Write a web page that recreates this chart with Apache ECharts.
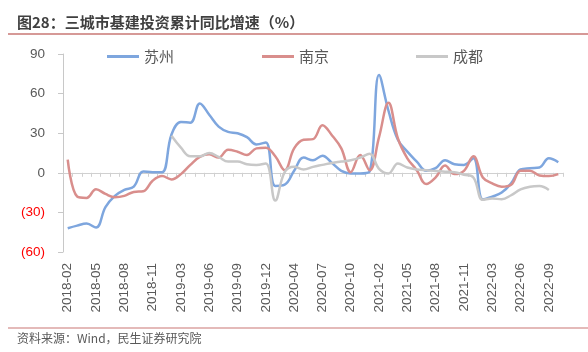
<!DOCTYPE html>
<html>
<head>
<meta charset="utf-8">
<script src="https://cdn.jsdelivr.net/npm/echarts@6/dist/echarts.min.js"></script>
<style>
  html, body { margin: 0; padding: 0; background: #fff; }
  #chart { width: 588px; height: 352px; }
</style>
</head>
<body>
<div id="chart"></div>
<script>
const months = [
  '2018-02', '2018-03', '2018-04', '2018-05', '2018-06', '2018-07', '2018-08', '2018-09', '2018-10', '2018-11', '2018-12',
  '2019-02', '2019-03', '2019-04', '2019-05', '2019-06', '2019-07', '2019-08', '2019-09', '2019-10', '2019-11', '2019-12',
  '2020-02', '2020-03', '2020-04', '2020-05', '2020-06', '2020-07', '2020-08', '2020-09', '2020-10', '2020-11', '2020-12',
  '2021-02', '2021-03', '2021-04', '2021-05', '2021-06', '2021-07', '2021-08', '2021-09', '2021-10', '2021-11', '2021-12',
  '2022-02', '2022-03', '2022-04', '2022-05', '2022-06', '2022-07', '2022-08', '2022-09', '2022-10'
]

// 苏州
const suzhou = [
  -42, -40, -38.5, -41.5, -26, -17.5, -13, -10.5, 1, 0.5, 0.5,
  29, 38.5, 38, 52.5, 44, 35, 31, 30, 27, 21.5, 23,
  -10, -9, 1.5, 11.5, 9.5, 13, 7.5, 1.5, -0.5, -0.5, 1,
  74, 47, 25, 16, 8.5, 1.5, 3.5, 9.5, 6.5, 6, 11,
  -20, -18, -15, -8, 2.5, 3.5, 4, 11, 8
]

// 南京
const nanjing = [
  10, -18, -19, -12.5, -16, -18.5, -17.5, -14.5, -14, -6, -2.5,
  -5, -1, 6, 12, 14, 11.5, 17.5, 16, 13.5, 18.5, 19,
  12.5, 2, 18.5, 25, 25.5, 36, 28.5, 18.5, 0.5, 13.5, 2,
  27, 53, 26, 11, 2, -8.5, -3.5, 5.5, -1, 1.5, 12.5,
  -3.5, -8, -10.5, -9, 1.5, 1.5, -2, -2.5, -1
]

// 成都
const chengdu = [
  null, null, null, null, null, null, null, null, null, null, null,
  28, 19, 12.5, 12.5, 15, 12, 8.5, 8.5, 6.5, 6, 7,
  -21, 0.5, 4.5, 2.5, 4.5, 6, 7.5, 8.5, 9.5, 11.5, 14.5,
  3, -0.5, 7, 4, 2.5, 2, 1.3, 0.8, 0.5, -1.5, -3.5,
  -20.5, -19.5, -20, -17, -12.5, -10.5, -10, -13, null
]

const yTicks = [-60, -30, 0, 30, 60, 90]

const chart = echarts.init(document.getElementById('chart'))

const legendItem = (name, left) => ({
  data: [name],
  left: left,
  top: 49,
  padding: 0,
  icon: 'rect',
  itemWidth: 32,
  itemHeight: 3,
  itemGap: 5,
  textStyle: { fontSize: 15, color: '#595959', fontFamily: 'Noto Sans CJK SC' }
})

const lineSeries = (name, data, color) => ({
  name: name,
  type: 'line',
  data: data,
  smooth: 0.4,
  symbol: 'none',
  connectNulls: false,
  lineStyle: { width: 2.5, color: color },
  itemStyle: { color: color }
})

const option = {
  animation: false,
  textStyle: { fontFamily: 'Liberation Sans, Noto Sans CJK SC' },
  grid: { left: 63, right: 25, top: 54, bottom: 100, containLabel: false },
  legend: [
    legendItem('苏州', 107),
    legendItem('南京', 262),
    legendItem('成都', 416)
  ],
  xAxis: [
    {
      type: 'category',
      data: months,
      boundaryGap: true,
      position: 'bottom',
      axisLine: { show: false, onZero: false },
      axisTick: { show: false },
      axisLabel: {
        rotate: 90,
        interval: 2,
        margin: 11,
        fontSize: 13.5,
        color: '#595959'
      }
    },
    {
      type: 'category',
      data: months,
      boundaryGap: true,
      position: 'bottom',
      axisLine: { show: true, onZero: true, lineStyle: { color: '#d0d0d0', width: 1 } },
      axisTick: { show: true, interval: 0, length: 4, lineStyle: { color: '#d0d0d0' } },
      axisLabel: { show: false }
    }
  ],
  yAxis: {
    type: 'value',
    min: yTicks[0],
    max: yTicks[yTicks.length - 1],
    interval: 30,
    splitLine: { show: false },
    axisLine: { show: true, lineStyle: { color: '#c8c8c8' } },
    axisTick: { show: true, length: 5, lineStyle: { color: '#c8c8c8' } },
    axisLabel: {
      margin: 18,
      fontSize: 13.5,
      formatter: v => (v < 0 ? '(' + (-v) + ')' : String(v)),
      color: v => (Number(v) < 0 ? '#ff0000' : '#595959')
    }
  },
  series: [
    lineSeries('苏州', suzhou, '#7ea6de'),
    lineSeries('南京', nanjing, '#d98e8c'),
    lineSeries('成都', chengdu, '#c8c8c8')
  ],
  graphic: [
    {
      type: 'text',
      left: 17,
      top: 15,
      style: {
        text: '图28：三城市基建投资累计同比增速（%）',
        fontSize: 15,
        fontWeight: 'bold',
        fill: '#404040',
        fontFamily: 'Noto Sans CJK SC'
      }
    },
    {
      type: 'line',
      shape: { x1: 8, y1: 34, x2: 588, y2: 34 },
      style: { stroke: '#c97775', lineWidth: 1.5 }
    },
    {
      type: 'line',
      shape: { x1: 8, y1: 328, x2: 588, y2: 328 },
      style: { stroke: '#c97775', lineWidth: 1.2 }
    },
    {
      type: 'text',
      left: 17,
      top: 332,
      style: {
        text: '资料来源：Wind，民生证券研究院',
        fontSize: 12,
        fill: '#595959',
        fontFamily: 'Noto Sans CJK SC'
      }
    }
  ]
}

chart.setOption(option)
</script>
</body>
</html>
